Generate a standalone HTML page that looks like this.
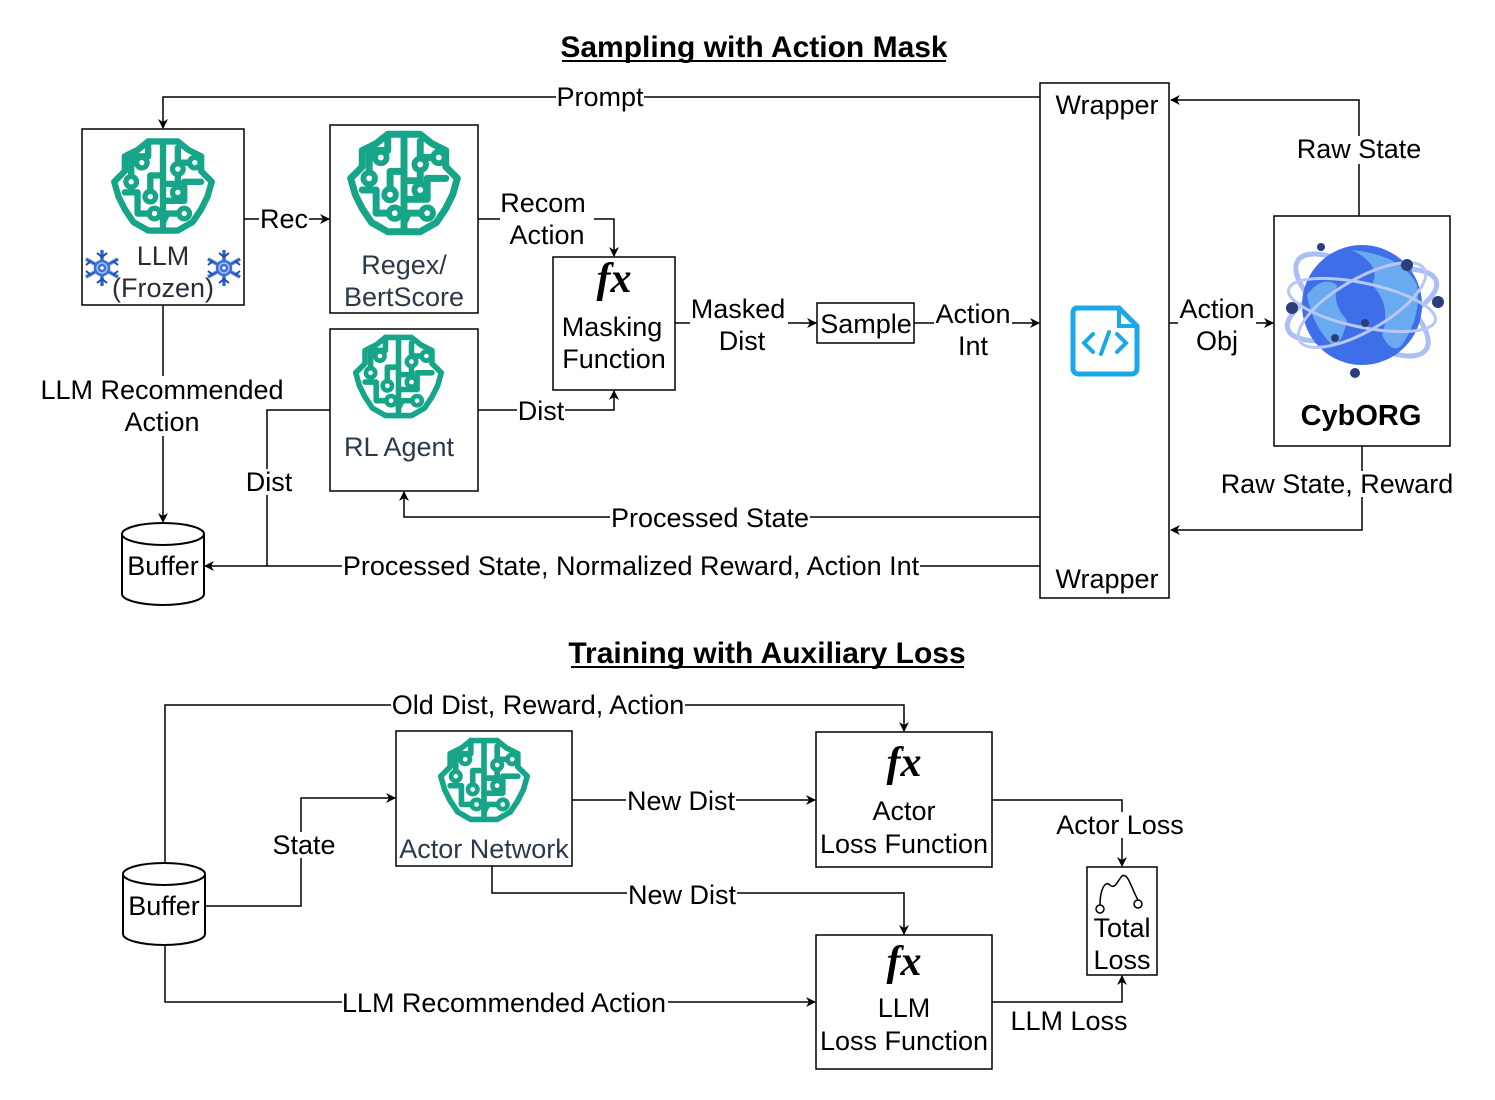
<!DOCTYPE html>
<html><head><meta charset="utf-8"><style>
html,body{margin:0;padding:0;background:#fff;}
svg{display:block;}
text{font-family:"Liberation Sans",Arial,sans-serif;font-size:27px;fill:#000;}
.fx{font-family:"Liberation Serif",serif;font-style:italic;font-weight:bold;font-size:42px;}
</style></head><body>
<svg width="1495" height="1100" viewBox="0 0 1495 1100" xmlns="http://www.w3.org/2000/svg">
<defs>
<marker id="a" markerWidth="10" markerHeight="10" refX="9" refY="5" orient="auto" markerUnits="userSpaceOnUse">
<path d="M0,0 L10,5 L0,10 L3,5 z" fill="#000"/></marker>
<symbol id="brain" viewBox="0 0 100 100">
<g fill="none" stroke="#17a589" stroke-width="6" stroke-linejoin="round" stroke-linecap="round">
<path d="M50,8 L36,8 L26,16 L14,22 L14,36 L4,46 L8,60 L14,72 L22,84 L36,92 L50,92 L64,92 L78,84 L86,72 L92,60 L96,46 L86,36 L86,22 L74,16 L64,8 Z"/>
<path d="M50,8 L50,92"/>
<path d="M36,8 L36,22 L20,22 L20,42 M20,42 L20,46"/>
<path d="M50,40 L38,40 L38,56"/>
<path d="M14,56 L26,56 L26,76 L38,76"/>
<path d="M64,14 L64,28 L76,28"/>
<path d="M50,48 L64,48 L64,36"/>
<path d="M50,64 L70,64 L70,46 L86,46"/>
<path d="M50,84 L54,76 L66,76"/>
</g>
<g fill="#fff" stroke="#17a589" stroke-width="5">
<circle cx="30" cy="28" r="5"/><circle cx="20" cy="46" r="5"/><circle cx="38" cy="60" r="5"/>
<circle cx="42" cy="76" r="5"/><circle cx="80" cy="28" r="5"/><circle cx="64" cy="34" r="5"/>
<circle cx="64" cy="56" r="5"/><circle cx="70" cy="76" r="5"/>
</g>
</symbol>
<symbol id="snow" viewBox="0 0 40 40">
<g stroke="#3b6fd8" stroke-width="2.5" fill="#9cc3f5">
<path d="M20,2 V38 M4,11 L36,29 M4,29 L36,11" stroke-width="4" stroke="#6a9be8"/>
<path d="M20,2 V38 M4,11 L36,29 M4,29 L36,11" stroke-width="1.5" stroke="#1f4fa8"/>
<circle cx="20" cy="20" r="7"/><circle cx="20" cy="20" r="3" fill="#fff"/>
<path d="M15,5 L20,9 L25,5 M15,35 L20,31 L25,35 M4,17 L9,13 M4,23 L9,27 M36,17 L31,13 M36,23 L31,27" fill="none" stroke="#1f4fa8" stroke-width="2"/>
</g>
</symbol>
</defs>

<text x="754" y="57" text-anchor="middle" font-weight="bold" style="font-size:30px">Sampling with Action Mask</text>
<line x1="562" y1="61" x2="946" y2="61" stroke="#000" stroke-width="2"/>
<text x="767" y="663" text-anchor="middle" font-weight="bold" style="font-size:30px">Training with Auxiliary Loss</text>
<line x1="571" y1="667" x2="964" y2="667" stroke="#000" stroke-width="2"/>

<g fill="#fff" stroke="#000" stroke-width="1.5">
<rect x="82" y="129" width="162" height="176"/>
<rect x="330" y="125" width="148" height="188"/>
<rect x="330" y="329" width="148" height="162"/>
<rect x="553" y="257" width="122" height="133"/>
<rect x="817" y="303" width="97" height="40"/>
<rect x="1040" y="83" width="129" height="515"/>
<rect x="1274" y="216" width="176" height="230"/>
<rect x="396" y="731" width="176" height="135"/>
<rect x="816" y="732" width="176" height="135"/>
<rect x="816" y="935" width="176" height="134"/>
<rect x="1087" y="867" width="70" height="108"/>
</g>

<g fill="#fff" stroke="#000" stroke-width="2">
<path d="M122,534 V594 A41,11 0 0 0 204,594 V534"/>
<ellipse cx="163" cy="534" rx="41" ry="11"/>
<path d="M123,874 V934 A41,11 0 0 0 205,934 V874"/>
<ellipse cx="164" cy="874" rx="41" ry="11"/>
</g>
<text x="163" y="575" text-anchor="middle">Buffer</text>
<text x="164" y="915" text-anchor="middle">Buffer</text>

<use href="#brain" x="110" y="133" width="106" height="106"/>
<use href="#brain" x="346" y="125" width="116" height="116"/>
<use href="#brain" x="352" y="330" width="93" height="93"/>
<use href="#brain" x="437" y="733" width="94" height="94"/>
<use href="#snow" x="82" y="248" width="40" height="40"/>
<use href="#snow" x="204" y="248" width="40" height="40"/>

<text x="163" y="265" text-anchor="middle" style="fill:#2b2b3a">LLM</text>
<text x="163" y="297" text-anchor="middle" style="fill:#2b2b3a">(Frozen)</text>
<text x="404" y="274" text-anchor="middle" style="fill:#2b3a4a">Regex/</text>
<text x="404" y="306" text-anchor="middle" style="fill:#2b3a4a">BertScore</text>
<text x="399" y="456" text-anchor="middle" style="fill:#2b3a4a">RL Agent</text>
<text x="484" y="858" text-anchor="middle" style="fill:#2b3a4a">Actor Network</text>

<text class="fx" x="614" y="292" text-anchor="middle">fx</text>
<text x="612" y="336" text-anchor="middle">Masking</text>
<text x="614" y="368" text-anchor="middle">Function</text>
<text x="866" y="333" text-anchor="middle">Sample</text>
<text x="1107" y="114" text-anchor="middle">Wrapper</text>
<text x="1107" y="588" text-anchor="middle">Wrapper</text>

<g transform="translate(1073,308)">
<path d="M4,0 H46 L64,18 V60 Q64,66 58,66 H6 Q0,66 0,60 V6 Q0,0 4,0Z" fill="none" stroke="#1aa8e8" stroke-width="5"/>
<path d="M46,0 V18 H64" fill="none" stroke="#1aa8e8" stroke-width="4"/>
<path d="M20,26 L11,35 L20,44 M44,26 L53,35 L44,44 M36,24 L28,46" fill="none" stroke="#1aa8e8" stroke-width="4" stroke-linecap="round"/>
</g>

<g transform="translate(1362,305)">
<ellipse rx="78" ry="28" transform="rotate(-18)" fill="none" stroke="#a9bff5" stroke-width="5"/>
<ellipse rx="78" ry="30" transform="rotate(35)" fill="none" stroke="#a9bff5" stroke-width="5"/>
<circle r="60" fill="#3f6fe8"/>
<path d="M-10,-55 Q20,-40 10,-20 Q30,0 20,30 Q30,50 40,40 Q60,10 55,-20 Q40,-50 -10,-55Z" fill="#6aaaf0"/>
<path d="M-55,-10 Q-40,-30 -25,-20 Q-30,0 -15,15 Q-20,40 -30,40 Q-50,20 -55,-10Z" fill="#6aaaf0"/>
<ellipse rx="75" ry="22" transform="rotate(12)" fill="none" stroke="#b8c8f5" stroke-width="3"/>
<ellipse rx="72" ry="26" transform="rotate(-30)" fill="none" stroke="#b8c8f5" stroke-width="3"/>
<g fill="#2b3f7a"><circle cx="-41" cy="-58" r="4"/><circle cx="45" cy="-40" r="6"/><circle cx="-70" cy="3" r="6"/><circle cx="76" cy="-3" r="6"/><circle cx="3" cy="18" r="4"/><circle cx="-27" cy="33" r="4"/><circle cx="-7" cy="68" r="5"/></g>
</g>
<text x="1361" y="425" text-anchor="middle" font-weight="bold" style="font-size:29px">CybORG</text>

<text class="fx" x="904" y="776" text-anchor="middle">fx</text>
<text x="904" y="820" text-anchor="middle">Actor</text>
<text x="904" y="853" text-anchor="middle">Loss Function</text>
<text class="fx" x="904" y="975" text-anchor="middle">fx</text>
<text x="904" y="1017" text-anchor="middle">LLM</text>
<text x="904" y="1050" text-anchor="middle">Loss Function</text>
<path d="M1100,905 C1100,890 1105,880 1110,885 C1115,890 1118,880 1122,876 C1128,872 1132,890 1138,900" fill="none" stroke="#000" stroke-width="1.5"/>
<circle cx="1100" cy="909" r="4" fill="#fff" stroke="#000" stroke-width="1.5"/>
<circle cx="1138" cy="904" r="4" fill="#fff" stroke="#000" stroke-width="1.5"/>
<text x="1122" y="937" text-anchor="middle">Total</text>
<text x="1122" y="969" text-anchor="middle">Loss</text>

<g fill="none" stroke="#000" stroke-width="1.5">
<path d="M1040,97 H163 V128" marker-end="url(#a)"/>
<path d="M1359,216 V100 H1171" marker-end="url(#a)"/>
<path d="M244,219 H329" marker-end="url(#a)"/>
<path d="M478,219 H614 V256" marker-end="url(#a)"/>
<path d="M675,323 H816" marker-end="url(#a)"/>
<path d="M914,323 H1039" marker-end="url(#a)"/>
<path d="M1169,323 H1273" marker-end="url(#a)"/>
<path d="M478,410 H614 V391" marker-end="url(#a)"/>
<path d="M163,305 V522" marker-end="url(#a)"/>
<path d="M1040,517 H404 V492" marker-end="url(#a)"/>
<path d="M1040,566 H205" marker-end="url(#a)"/>
<path d="M1362,446 V530 H1171" marker-end="url(#a)"/>
<path d="M165,863 V705 H904 V731" marker-end="url(#a)"/>
<path d="M205,906 H301 V798 H395" marker-end="url(#a)"/>
<path d="M572,800 H815" marker-end="url(#a)"/>
<path d="M492,866 V893 H904 V934" marker-end="url(#a)"/>
<path d="M165,945 V1002 H815" marker-end="url(#a)"/>
<path d="M992,800 H1122 V866" marker-end="url(#a)"/>
<path d="M992,1002 H1122 V976" marker-end="url(#a)"/>
</g>

<g>
<rect x="556" y="84" width="88" height="26" fill="#fff"/><text x="600" y="106" text-anchor="middle">Prompt</text>
<rect x="1296" y="136" width="126" height="28" fill="#fff"/><text x="1359" y="158" text-anchor="middle">Raw State</text>
<rect x="259" y="206" width="50" height="26" fill="#fff"/><text x="284" y="228" text-anchor="middle">Rec</text>
<rect x="500" y="190" width="94" height="58" fill="#fff"/><text x="543" y="212" text-anchor="middle">Recom</text><text x="547" y="244" text-anchor="middle">Action</text>
<rect x="690" y="296" width="98" height="58" fill="#fff"/><text x="738" y="318" text-anchor="middle">Masked</text><text x="742" y="350" text-anchor="middle">Dist</text>
<rect x="934" y="301" width="78" height="58" fill="#fff"/><text x="973" y="323" text-anchor="middle">Action</text><text x="973" y="355" text-anchor="middle">Int</text>
<rect x="1178" y="296" width="78" height="58" fill="#fff"/><text x="1217" y="318" text-anchor="middle">Action</text><text x="1217" y="350" text-anchor="middle">Obj</text>
<rect x="517" y="398" width="48" height="26" fill="#fff"/><text x="541" y="420" text-anchor="middle">Dist</text>
<rect x="38" y="376" width="248" height="30" fill="#fff"/><rect x="120" y="406" width="84" height="30" fill="#fff"/>
<text x="162" y="399" text-anchor="middle">LLM Recommended</text><text x="162" y="431" text-anchor="middle">Action</text>
<path d="M330,410 H267 V566" fill="none" stroke="#000" stroke-width="1.5"/>
<rect x="245" y="469" width="48" height="26" fill="#fff"/><text x="269" y="491" text-anchor="middle">Dist</text>
<rect x="610" y="505" width="200" height="26" fill="#fff"/><text x="710" y="527" text-anchor="middle">Processed State</text>
<rect x="342" y="553" width="578" height="26" fill="#fff"/><text x="631" y="575" text-anchor="middle">Processed State, Normalized Reward, Action Int</text>
<rect x="1220" y="471" width="236" height="26" fill="#fff"/><text x="1337" y="493" text-anchor="middle">Raw State, Reward</text>
<rect x="391" y="692" width="294" height="26" fill="#fff"/><text x="538" y="714" text-anchor="middle">Old Dist, Reward, Action</text>
<rect x="272" y="832" width="64" height="26" fill="#fff"/><text x="304" y="854" text-anchor="middle">State</text>
<rect x="626" y="788" width="110" height="26" fill="#fff"/><text x="681" y="810" text-anchor="middle">New Dist</text>
<rect x="627" y="882" width="110" height="26" fill="#fff"/><text x="682" y="904" text-anchor="middle">New Dist</text>
<rect x="342" y="990" width="326" height="26" fill="#fff"/><text x="504" y="1012" text-anchor="middle">LLM Recommended Action</text>
<rect x="1055" y="812" width="130" height="26" fill="#fff"/><text x="1120" y="834" text-anchor="middle">Actor Loss</text>
<text x="1069" y="1030" text-anchor="middle">LLM Loss</text>
</g>
</svg>
</body></html>
